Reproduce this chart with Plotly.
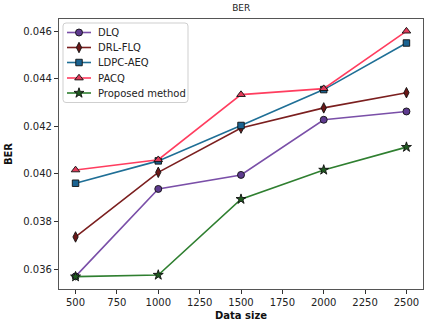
import plotly.graph_objects as go

x_vals = [500, 1000, 1500, 2000, 2500]
dlq = [0.03569, 0.03937, 0.03996, 0.04228, 0.04263]
drl_flq = [0.03735, 0.04007, 0.04193, 0.04278, 0.04342]
ldpc_aeq = [0.03961, 0.04055, 0.04204, 0.04355, 0.04551]
pacq = [0.04017, 0.04060, 0.04334, 0.04359, 0.04601]
proposed = [0.03568, 0.03575, 0.03894, 0.04017, 0.04113]
names = ["DLQ", "DRL-FLQ", "LDPC-AEQ", "PACQ", "Proposed method"]

styles = [
    ("#7a4fa8", "#5e3b8f", "circle", 7),
    ("#7b1f1f", "#6a1818", "diamond-tall", 7.5),
    ("#1f6f96", "#1a6391", "square", 6.5),
    ("#ff3d5f", "#e23b5a", "triangle-up", 7.5),
    ("#2f7f30", "#1f5a20", "star", 7.5),
]
data = [dlq, drl_flq, ldpc_aeq, pacq, proposed]

W, H = 430, 328
ML, MR, MT, MB = 59, 7, 19, 39

fig = go.Figure()
for name, vals, (lc, mc, sym, ms) in zip(names, data, styles):
    fig.add_trace(go.Scatter(
        x=x_vals, y=vals, name=name, mode="lines+markers", showlegend=False,
        line=dict(color=lc, width=1.6),
        marker=dict(symbol=sym, size=ms, color=mc, line=dict(color="#111111", width=0.9)),
    ))

# custom matplotlib-like legend in a pixel-space overlay axis
px0, px1 = ML, W - MR
py0, py1 = MT, H - MB
row_y = [32.5, 47.5, 62.5, 78, 93]
for name, ry, (lc, mc, sym, ms) in zip(names, row_y, styles):
    fig.add_trace(go.Scatter(
        x=[67, 79, 91], y=[ry, ry, ry], mode="lines", xaxis="x2", yaxis="y2",
        showlegend=False, hoverinfo="skip", line=dict(color=lc, width=1.6)))
    fig.add_trace(go.Scatter(
        x=[79], y=[ry], mode="markers", xaxis="x2", yaxis="y2",
        showlegend=False, hoverinfo="skip",
        marker=dict(symbol=sym, size=ms, color=mc, line=dict(color="#111111", width=0.9))))
    fig.add_annotation(x=96, y=ry, xref="x2", yref="y2", text=name, showarrow=False,
                       xanchor="left", yanchor="middle",
                       font=dict(family="DejaVu Sans", size=10, color="#222222"))

# rounded legend frame
x0, x1, y0, y1, r = 63, 188, 23, 102.5, 3
path = (f"M {x0+r},{y0} L {x1-r},{y0} Q {x1},{y0} {x1},{y0+r} L {x1},{y1-r} Q {x1},{y1} {x1-r},{y1} "
        f"L {x0+r},{y1} Q {x0},{y1} {x0},{y1-r} L {x0},{y0+r} Q {x0},{y0} {x0+r},{y0} Z")
fig.add_shape(type="path", path=path, xref="x2", yref="y2",
              line=dict(color="#cfcfcf", width=1), fillcolor="rgba(255,255,255,0.8)", layer="below")

axis_common = dict(
    showgrid=False, zeroline=False, showline=True, mirror=True,
    linecolor="#555555", linewidth=1.2, ticks="outside", ticklen=4,
    tickcolor="#333333", tickfont=dict(family="DejaVu Sans", size=10, color="#222222"),
)
fig.update_layout(
    xaxis=dict(range=[400, 2600], tickvals=[500, 750, 1000, 1250, 1500, 1750, 2000, 2250, 2500],
               title=dict(text="<b>Data size</b>", font=dict(family="DejaVu Sans", size=10, color="#111111"), standoff=4),
               **axis_common),
    yaxis=dict(range=[0.03516, 0.04652], tickvals=[0.036, 0.038, 0.040, 0.042, 0.044, 0.046],
               tickformat=".3f",
               title=dict(text="<b>BER</b>", font=dict(family="DejaVu Sans", size=10, color="#111111"), standoff=8),
               **axis_common),
    xaxis2=dict(range=[px0, px1], overlaying="x", visible=False, fixedrange=True),
    yaxis2=dict(range=[py1, py0], overlaying="y", visible=False, fixedrange=True),
)

fig.update_layout(
    width=W, height=H,
    margin=dict(l=ML, r=MR, t=MT, b=MB),
    paper_bgcolor="white", plot_bgcolor="white",
    title=dict(text="BER", x=0.561, xanchor="center", y=0.975, yanchor="middle",
               font=dict(family="DejaVu Sans", size=9, color="#222222")),
    showlegend=False,
)

fig.write_html("out.html", config={"displayModeBar": False},
               post_script="document.body.style.margin='0';document.body.style.padding='0';")
